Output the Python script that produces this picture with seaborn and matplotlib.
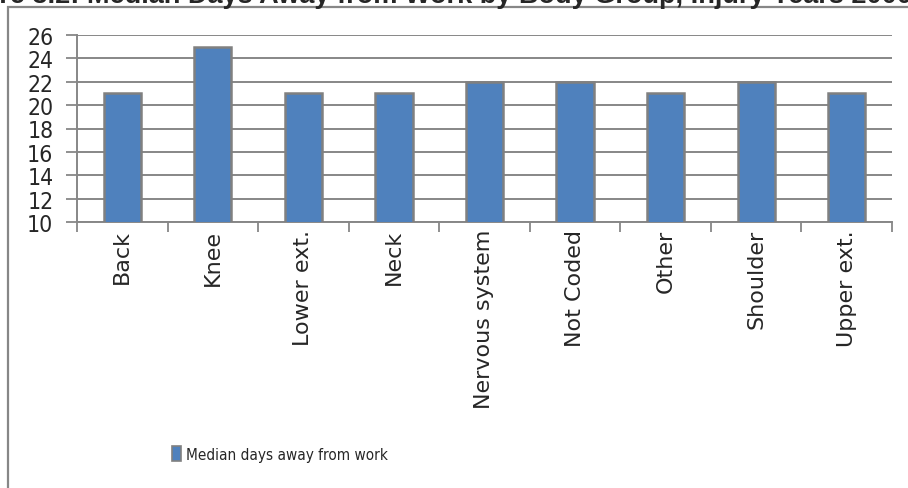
import matplotlib
matplotlib.use("Agg")
import matplotlib.pyplot as plt
from matplotlib.patches import Patch, Rectangle
from matplotlib.ticker import FixedLocator
import seaborn as sns
import pandas as pd

categories = ["Back", "Knee", "Lower ext.", "Neck", "Nervous system",
              "Not Coded", "Other", "Shoulder", "Upper ext."]
median_days = [21, 25, 21, 21, 22, 22, 21, 22, 21]
y_ticks = [10, 12, 14, 16, 18, 20, 22, 24, 26]
series_name = "Median days away from work"
title = "Figure 3.2: Median Days Away from Work by Body Group, Injury Years 2000-2009"

sns.set_style("white")
plt.rcParams["font.family"] = ["DejaVu Sans"]

BAR = "#4F81BD"
EDGE = "#808080"
GRID = "#878787"
COND = ["DejaVu Sans Condensed", "DejaVu Sans"]

df = pd.DataFrame({"category": categories, "value": median_days})

fig = plt.figure(figsize=(9.08, 4.89), dpi=100)
ax = fig.add_axes([77 / 908, 1 - 223 / 489, (892 - 77) / 908, (223 - 36) / 489])

sns.barplot(data=df, x="category", y="value", color=BAR, width=0.41,
            edgecolor=EDGE, linewidth=1.8, saturation=1, ax=ax, zorder=3)
for p in ax.patches:
    p.set_zorder(3)

ax.set_ylim(10, 26)
ax.set_xlim(-0.5, len(categories) - 0.5)
ax.set_yticks(y_ticks)
ax.set_yticklabels([str(t) for t in y_ticks], family=COND, fontstretch="condensed", fontsize=16.5)
ax.set_xlabel("")
ax.set_ylabel("")

ax.set_xticks(range(len(categories)))
ax.set_xticklabels(categories, rotation=90, fontsize=16, family=["DejaVu Sans"])
ax.xaxis.set_minor_locator(FixedLocator([i - 0.5 for i in range(len(categories) + 1)]))
ax.tick_params(axis="x", which="major", length=0, pad=5)
ax.tick_params(axis="x", which="minor", length=7, width=1.3, color=GRID, direction="out", bottom=True)
ax.tick_params(axis="y", which="major", length=8, width=1.3, color=GRID, direction="out", left=True, pad=9)

ax.yaxis.grid(True, color=GRID, linewidth=1.4, zorder=0)
ax.set_axisbelow(True)
for s in ["top", "right"]:
    ax.spines[s].set_visible(False)
for s in ["left", "bottom"]:
    ax.spines[s].set_color(GRID)
    ax.spines[s].set_linewidth(1.4)

handles = [Patch(facecolor=BAR, edgecolor=EDGE, linewidth=1.2, label=series_name)]
fs_leg = 11
px = fs_leg * 100 / 72
fig.legend(handles=handles, loc="center left", bbox_to_anchor=(172 / 908, 1 - 455 / 489),
           bbox_transform=fig.transFigure, frameon=False, borderpad=0, borderaxespad=0,
           prop={"family": COND, "stretch": "condensed", "size": fs_leg},
           handlelength=9 / px, handleheight=16 / px, handletextpad=5 / px)

fig.add_artist(Rectangle((8 / 908, -0.2), 1.2, 1.2 - 8 / 489,
                         transform=fig.transFigure, fill=False,
                         edgecolor=GRID, linewidth=1.6, clip_on=False))

fig.text(-0.0635, 1 - 3 / 489, title, ha="left", va="baseline",
         fontsize=19.5, fontweight="bold", family=["Liberation Sans", "DejaVu Sans"])

fig.savefig("out.png", dpi=100)
